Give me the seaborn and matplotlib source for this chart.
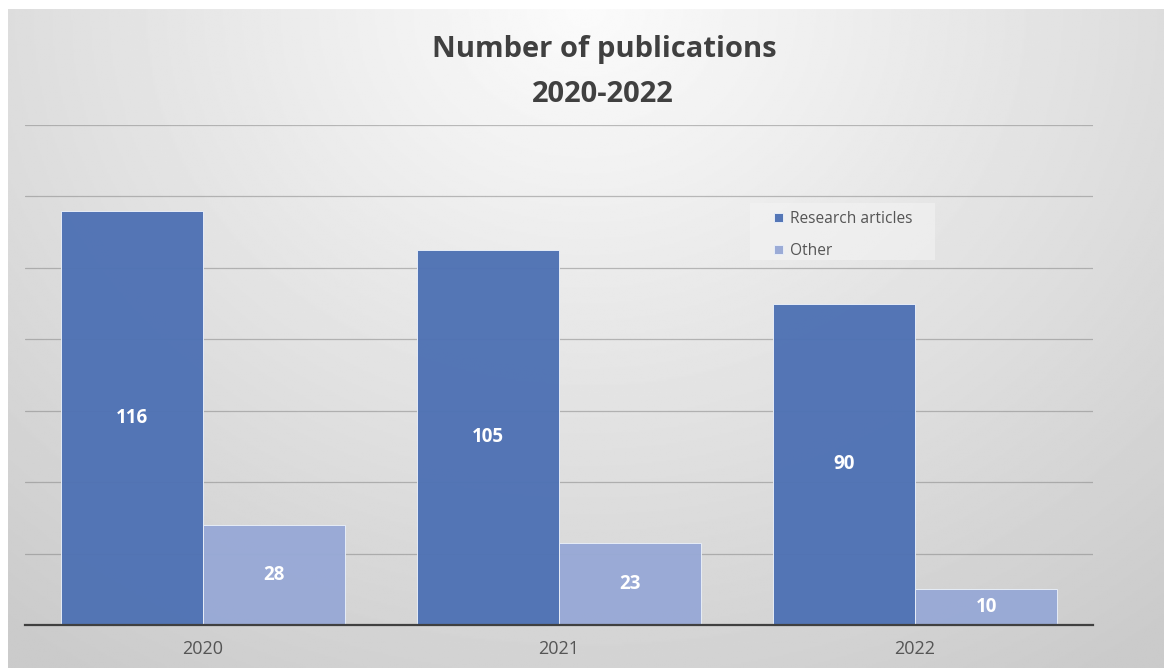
import numpy as np
import pandas as pd
import seaborn as sns
import matplotlib.pyplot as plt
from matplotlib.patches import Rectangle

# Data
years = ["2020", "2021", "2022"]
research_articles = [116, 105, 90]
other = [28, 23, 10]
series_names = ["Research articles", "Other"]

df = pd.DataFrame({
    "Year": years * 2,
    "Type": [series_names[0]] * 3 + [series_names[1]] * 3,
    "Count": research_articles + other,
})

sns.set_theme(style="white")
plt.rcParams["font.family"] = ["Open Sans", "DejaVu Sans"]

W, H = 1164, 668
fig = plt.figure(figsize=(W / 100, H / 100), dpi=100)
fig.patch.set_facecolor("white")

# Radial-ish gradient background (light at top centre, grey at the bottom)
bg = fig.add_axes([8 / W, 0, 1 - 8 / W, 1 - 9 / H])
gx, gy = np.meshgrid(np.linspace(-1, 1, 600), np.linspace(0, 1, 400))
dist = np.sqrt((gx * 0.75) ** 2 + (gy * 1.0) ** 2)
shade = 0.985 - 0.19 * np.clip(dist, 0, 1.2) / 1.2
bg.imshow(shade, cmap="gray", vmin=0, vmax=1, aspect="auto",
          extent=[0, 1, 1, 0])
bg.set_axis_off()

ax = fig.add_axes([25 / W, (H - 625) / H, (1093 - 25) / W, 500 / H])
ax.patch.set_alpha(0)

palette = {"Research articles": "#4F72B4", "Other": "#98A9D6"}
sns.barplot(data=df, x="Year", y="Count", hue="Type", palette=palette,
            saturation=1, width=0.8, alpha=0.97, edgecolor="#E8EEF8",
            linewidth=0.7, ax=ax, zorder=3)

for cont in ax.containers:
    ax.bar_label(cont, label_type="center", color="white", fontsize=13.5,
                 fontweight="bold")

ax.set_xlim(-0.5, 2.5)
ax.set_ylim(0, 140)
ax.set_yticks(range(0, 141, 20))
ax.yaxis.grid(True, color="#808080", alpha=0.5, linewidth=0.9, zorder=0)
ax.set_axisbelow(True)
ax.tick_params(axis="y", left=False, labelleft=False)
ax.tick_params(axis="x", bottom=False, labelsize=13, colors="#555555", pad=5)
ax.set_xlabel("")
ax.set_ylabel("")
for s in ["left", "right", "top"]:
    ax.spines[s].set_visible(False)
ax.spines["bottom"].set_color("#404040")
ax.spines["bottom"].set_linewidth(1.6)
ax.spines["bottom"].set_zorder(5)

# legend panel
ax.add_patch(Rectangle((0.6788, 0.73), 0.1732, 0.114, transform=ax.transAxes,
                       facecolor="#F4F4F4", alpha=0.55, edgecolor="none",
                       zorder=4))
leg = ax.legend(loc="center left", bbox_to_anchor=(0.7013, 0.780),
                frameon=False, fontsize=11.2, handlelength=0.55,
                handleheight=0.55, handletextpad=0.45, labelspacing=1.05,
                borderpad=0, borderaxespad=0)
leg.set_zorder(6)
for t in leg.get_texts():
    t.set_color("#555555")

fig.text(604 / W, 1 - 57 / H, "Number of publications", ha="center",
         va="baseline", fontsize=21, fontweight="bold", color="#404040")
fig.text(603 / W, 1 - 102 / H, "2020-2022", ha="center", va="baseline",
         fontsize=21, fontweight="bold", color="#404040")

fig.savefig("out.png", dpi=100)
